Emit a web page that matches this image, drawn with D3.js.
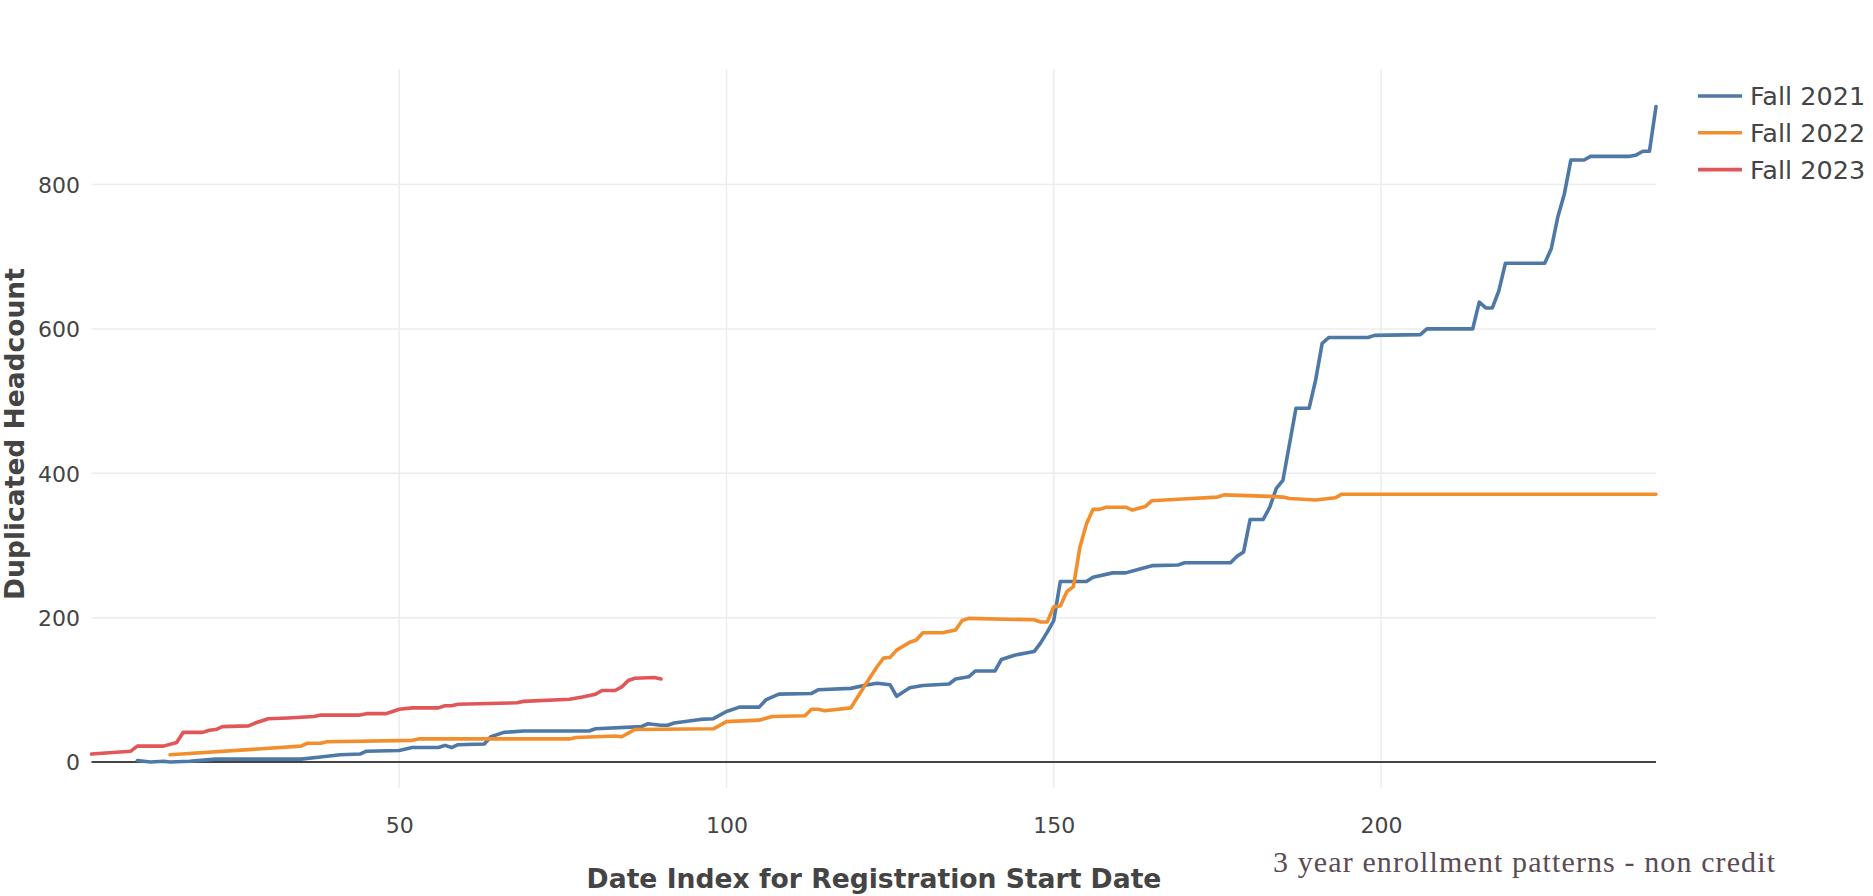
<!DOCTYPE html>
<html>
<head>
<meta charset="utf-8">
<script src="https://cdn.jsdelivr.net/npm/d3@7/dist/d3.min.js"></script>
<style>
  body { margin: 0; background: #fff; }
</style>
</head>
<body>
<div id="chart"></div>
<script>
// values (date index -> duplicated headcount)
const fall2021X = [10, 12, 14, 15, 18, 22, 35, 38, 41, 44, 45, 50, 52, 56, 57, 58, 59, 63, 64, 66, 69, 79, 80, 87, 88, 90, 91, 92, 96, 98, 100, 102, 105, 106, 108, 113, 114, 119, 121, 123, 125, 126, 128, 130, 134, 135, 137, 138, 141, 142, 144, 147, 148, 149, 150, 151, 155, 156, 159, 161, 163, 165, 169, 170, 177, 178, 179, 180, 182, 183, 184, 185, 187, 189, 190, 191, 192, 198, 199, 206, 207, 214, 215, 216, 217, 218, 219, 225, 226, 227, 228, 229, 231, 232, 238, 239, 240, 241, 242];
const fall2021Y = [2, 0, 1, 0, 1, 4, 4, 7, 10, 11, 15, 16, 20, 20, 23, 20, 24, 25, 35, 41, 43, 43, 46, 49, 53, 51, 51, 54, 59, 60, 70, 76, 76, 86, 94, 95, 100, 102, 106, 109, 107, 91, 103, 106, 108, 115, 118, 126, 126, 142, 148, 153, 165, 180, 196, 250, 250, 256, 262, 262, 267, 272, 273, 276, 276, 285, 291, 336, 336, 353, 379, 390, 490, 490, 529, 580, 588, 588, 591, 592, 600, 600, 637, 629, 629, 653, 691, 691, 711, 755, 787, 834, 834, 839, 839, 841, 846, 846, 908];

const fall2022X = [15, 35, 36, 38, 39, 52, 53, 69, 76, 77, 83, 84, 85, 86, 98, 100, 105, 107, 112, 113, 114, 115, 119, 121, 123, 124, 125, 126, 128, 129, 130, 133, 135, 136, 137, 147, 148, 149, 150, 151, 152, 153, 154, 155, 156, 157, 158, 161, 162, 164, 165, 169, 175, 176, 183, 185, 186, 190, 192, 193, 194, 242];
const fall2022Y = [10, 22, 26, 26, 28, 30, 32, 32, 32, 34, 36, 35, 40, 45, 46, 56, 58, 63, 64, 73, 73, 71, 75, 104, 132, 144, 145, 155, 166, 169, 179, 179, 183, 196, 199, 197, 194, 194, 215, 216, 236, 243, 298, 330, 350, 350, 353, 353, 349, 354, 362, 364, 367, 370, 368, 367, 365, 363, 365, 366, 371, 371];

const fall2023X = [3, 9, 10, 14, 16, 17, 20, 21, 22, 23, 27, 28, 30, 33, 37, 38, 44, 45, 48, 49, 50, 52, 56, 57, 58, 59, 68, 69, 76, 78, 80, 81, 83, 84, 85, 86, 89, 90];
const fall2023Y = [11, 15, 22, 22, 27, 41, 41, 44, 45, 49, 50, 54, 60, 61, 63, 65, 65, 67, 67, 70, 73, 75, 75, 78, 78, 80, 82, 84, 87, 90, 94, 99, 99, 104, 113, 116, 117, 115];

const seriesNames = ['Fall 2021', 'Fall 2022', 'Fall 2023'];
const seriesColors = ['#4e79a7', '#f28e2b', '#e15759'];
const xTicks = [50, 100, 150, 200];
const yTicks = [0, 200, 400, 600, 800];

const series = [
  {name: seriesNames[0], color: seriesColors[0], values: fall2021X.map((d, i) => [d, fall2021Y[i]])},
  {name: seriesNames[1], color: seriesColors[1], values: fall2022X.map((d, i) => [d, fall2022Y[i]])},
  {name: seriesNames[2], color: seriesColors[2], values: fall2023X.map((d, i) => [d, fall2023Y[i]])},
];

const width = 1873;
const height = 896;
const plotLeft = 91.5, plotRight = 1656, plotTop = 69, plotBottom = 788;

const svg = d3.select('#chart')
  .append('svg')
  .attr('width', width)
  .attr('height', height)
  .style('font-family', '"DejaVu Sans", Verdana, sans-serif');

const x = d3.scaleLinear().domain([3, 242]).range([plotLeft, plotRight]);
const y = d3.scaleLinear().domain([-36, 960]).range([plotBottom, plotTop]);

// grid
svg.append('g')
  .selectAll('line')
  .data(xTicks)
  .enter().append('line')
  .attr('x1', d => x(d)).attr('x2', d => x(d))
  .attr('y1', plotTop).attr('y2', plotBottom)
  .attr('stroke', '#ececec')
  .attr('stroke-width', 1.5);

svg.append('g')
  .selectAll('line')
  .data(yTicks.filter(d => d !== 0))
  .enter().append('line')
  .attr('x1', plotLeft).attr('x2', plotRight)
  .attr('y1', d => y(d)).attr('y2', d => y(d))
  .attr('stroke', '#ececec')
  .attr('stroke-width', 1.5);

// zero line
svg.append('line')
  .attr('x1', plotLeft).attr('x2', plotRight)
  .attr('y1', y(0)).attr('y2', y(0))
  .attr('stroke', '#444')
  .attr('stroke-width', 2);

// axes (labels only)
const xAxis = svg.append('g')
  .attr('transform', `translate(0,${plotBottom})`)
  .call(d3.axisBottom(x).tickValues(xTicks).tickSize(0).tickPadding(29));
xAxis.select('.domain').remove();
xAxis.selectAll('text')
  .attr('fill', '#444')
  .style('font-size', '22px')
  .style('font-family', '"DejaVu Sans", Verdana, sans-serif');

const yAxis = svg.append('g')
  .attr('transform', `translate(${plotLeft},0)`)
  .call(d3.axisLeft(y).tickValues(yTicks).tickSize(0).tickPadding(11.5));
yAxis.select('.domain').remove();
yAxis.selectAll('text')
  .attr('fill', '#444')
  .attr('dy', '0.36em')
  .style('font-size', '22px')
  .style('font-family', '"DejaVu Sans", Verdana, sans-serif');

// lines
const line = d3.line()
  .x(d => x(d[0]))
  .y(d => y(d[1]));

svg.append('g')
  .selectAll('path')
  .data(series)
  .enter().append('path')
  .attr('d', d => line(d.values))
  .attr('fill', 'none')
  .attr('stroke', d => d.color)
  .attr('stroke-width', 3.6)
  .attr('stroke-linejoin', 'round')
  .attr('stroke-linecap', 'round');

// axis titles
svg.append('text')
  .attr('x', 874)
  .attr('y', 888)
  .attr('text-anchor', 'middle')
  .attr('fill', '#444')
  .style('font-size', '26.6px')
  .style('font-weight', 'bold')
  .text('Date Index for Registration Start Date');

svg.append('text')
  .attr('transform', 'translate(24,434) rotate(-90)')
  .attr('text-anchor', 'middle')
  .attr('fill', '#444')
  .style('font-size', '26.5px')
  .style('font-weight', 'bold')
  .text('Duplicated Headcount');

// legend
const legend = svg.append('g')
  .selectAll('g')
  .data(series)
  .enter().append('g')
  .attr('transform', (d, i) => `translate(1698,${96 + i * 36.8})`);

legend.append('line')
  .attr('x1', 0).attr('x2', 44)
  .attr('stroke', d => d.color)
  .attr('stroke-width', 3.6);

legend.append('text')
  .attr('x', 52)
  .attr('dy', '0.36em')
  .attr('fill', '#444')
  .style('font-size', '25.5px')
  .text(d => d.name);

// caption
svg.append('text')
  .attr('x', 1273)
  .attr('y', 872)
  .attr('fill', '#5b4b55')
  .attr('textLength', 502)
  .attr('lengthAdjust', 'spacing')
  .style('font-family', '"Liberation Serif", serif')
  .style('font-size', '30px')
  .text('3 year enrollment patterns - non credit');
</script>
</body>
</html>
